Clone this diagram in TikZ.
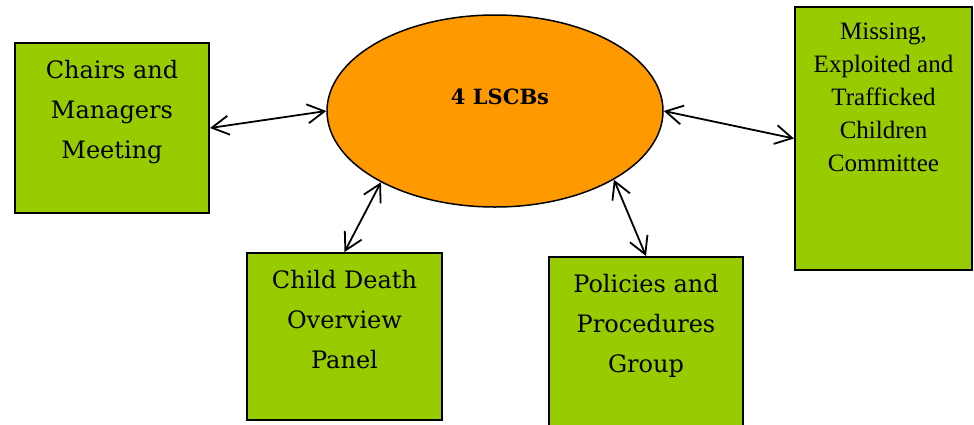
\documentclass[tikz,border=0pt]{standalone}
\usepackage{fontspec}
\newfontfamily\boxfont{DejaVu Serif}
\newfontfamily\timesfont{Liberation Serif}
\usetikzlibrary{shapes.geometric}
\usetikzlibrary{arrows.meta}
\usetikzlibrary{positioning}
\definecolor{boxgreen}{RGB}{153,204,0}
\definecolor{lscborange}{RGB}{255,153,0}

\begin{document}
\begin{tikzpicture}[x=1pt,y=-1pt,
box/.style={draw=black,fill=boxgreen,line width=2pt,inner sep=0pt},
boxtxt/.style={anchor=north,align=center,inner sep=0pt,font=\boxfont\fontsize{24}{40}\selectfont},
<-->/.style={{Straight Barb[length=17pt,width=19pt]}-{Straight Barb[length=17pt,width=19pt]},line width=1.8pt},
]
\useasboundingbox (0,0) rectangle (974,424);

\node[ellipse,draw,fill=lscborange,line width=1.5pt,minimum width=336pt,minimum height=192pt,inner sep=0pt] (lscb) at (495,111) {};
\node[font=\boxfont\bfseries\fontsize{21}{25}\selectfont] (lscbt) at (500,97) {4 LSCBs};

\node[box,minimum width=194pt,minimum height=170pt] (cm) at (112,128) {};
\node[boxtxt,below=18pt of cm.north] (cmt) {Chairs and\\Managers\\Meeting};

\node[box,minimum width=177pt,minimum height=263pt] (metc) at (883.5,138.5) {};
\node[boxtxt,font=\timesfont\fontsize{25}{33}\selectfont,below=17pt of metc.north] (metct) {Missing,\\Exploited and\\Trafficked\\Children\\Committee};

\node[box,minimum width=195pt,minimum height=167pt] (cdop) at (344.5,336.5) {};
\node[boxtxt,below=18pt of cdop.north] (cdopt) {Child Death\\Overview\\Panel};

\node[box,minimum width=194pt,minimum height=171pt] (ppg) at (646,342.5) {};
\node[boxtxt,below=18pt of ppg.north] (ppgt) {Policies and\\Procedures\\Group};

\draw[<-->] (cm.east) -- (lscb.west);
\draw[<-->] (lscb.east) -- (metc.west);
\draw[<-->] (cdop.north) -- (lscb.212);
\draw[<-->] (lscb.330) -- (ppg.north);
\end{tikzpicture}
\end{document}
